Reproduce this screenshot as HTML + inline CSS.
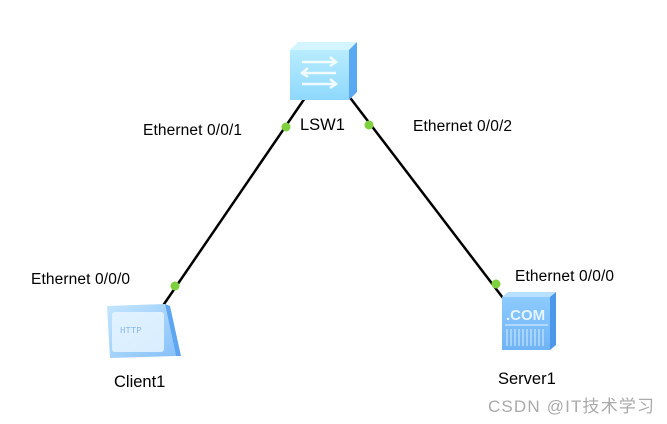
<!DOCTYPE html>
<html><head><meta charset="utf-8"><style>
html,body{margin:0;padding:0;background:#fff}
svg{display:block}
text{font-family:"Liberation Sans",Arial,sans-serif;font-size:15.5px;fill:#000}
</style></head><body>
<svg width="667" height="424" viewBox="0 0 667 424" xmlns="http://www.w3.org/2000/svg">
<defs>
<linearGradient id="sw" x1="0" y1="0" x2="0" y2="1"><stop offset="0" stop-color="#b8ecff"/><stop offset="1" stop-color="#8ed8fb"/></linearGradient>
<linearGradient id="cl" x1="0" y1="0" x2="1" y2="1"><stop offset="0" stop-color="#c4e6ff"/><stop offset="1" stop-color="#86c0f8"/></linearGradient>
<linearGradient id="sv" x1="0" y1="0" x2="0" y2="1"><stop offset="0" stop-color="#8ccaff"/><stop offset="1" stop-color="#6fb4f6"/></linearGradient>
</defs>
<line x1="307" y1="95" x2="160" y2="310" stroke="#000" stroke-width="2.5"/>
<line x1="348" y1="95" x2="503" y2="298" stroke="#000" stroke-width="2.5"/>
<polygon points="290,50 298,42 357,42 349,50" fill="#d4f4ff"/>
<polygon points="349,50 357,42 357,92 349,100" fill="#5aa8f2"/>
<rect x="290" y="50" width="59" height="50" fill="url(#sw)"/>
<g stroke="#fff" stroke-width="2.5" fill="none" opacity="0.85">
<path d="M302 62 H336 M330 57 L336 62 L330 66"/>
<path d="M336 73 H302 M308 68 L302 73 L308 77"/>
<path d="M302 84 H336 M330 79 L336 84 L330 88"/>
</g>
<polygon points="107,306 165,304 176,356 110,358" fill="url(#cl)"/>
<polygon points="165,304 170,306 181,356 176,356" fill="#5ea6ef"/>
<rect x="112" y="312" width="52" height="40" rx="3" fill="#eaf6ff" opacity="0.8"/>
<text x="120" y="333" style="font-family:'Liberation Mono',monospace;font-size:9px;fill:#8ab8e8">HTTP</text>
<polygon points="502,297 508,292 556,292 550,297" fill="#b8e0ff"/>
<polygon points="550,297 556,292 556,345 550,350" fill="#4b98ea"/>
<rect x="502" y="297" width="48" height="53" fill="url(#sv)"/>
<text x="506" y="320" style="font-size:15px;font-weight:bold;fill:#e6f4ff">.COM</text>
<line x1="505" y1="325" x2="548" y2="325" stroke="#e6f4ff" stroke-width="1"/>
<g stroke="#d8ecff" stroke-width="1">
<line x1="507" y1="329" x2="507" y2="346"/><line x1="511" y1="329" x2="511" y2="346"/><line x1="515" y1="329" x2="515" y2="346"/><line x1="519" y1="329" x2="519" y2="346"/><line x1="523" y1="329" x2="523" y2="346"/><line x1="527" y1="329" x2="527" y2="346"/><line x1="531" y1="329" x2="531" y2="346"/><line x1="535" y1="329" x2="535" y2="346"/><line x1="539" y1="329" x2="539" y2="346"/><line x1="543" y1="329" x2="543" y2="346"/>
</g>
<g fill="#7ed03c">
<circle cx="286" cy="127" r="4.5"/><circle cx="369" cy="125" r="4.5"/>
<circle cx="175" cy="286" r="4.5"/><circle cx="496" cy="284" r="4.5"/>
</g>
<text x="143" y="135" textLength="99">Ethernet 0/0/1</text>
<text x="300" y="130" style="font-size:16.5px">LSW1</text>
<text x="413" y="131" textLength="99">Ethernet 0/0/2</text>
<text x="31" y="284" textLength="99">Ethernet 0/0/0</text>
<text x="515" y="281" textLength="99">Ethernet 0/0/0</text>
<text x="114" y="387" style="font-size:16.5px">Client1</text>
<text x="498" y="384" style="font-size:16.5px">Server1</text>
<text x="488" y="412" style="font-family:'Liberation Sans','Noto Sans CJK SC',sans-serif;font-size:17px;fill:#aaaaaa" textLength="166">CSDN @IT技术学习</text>
</svg>
</body></html>
